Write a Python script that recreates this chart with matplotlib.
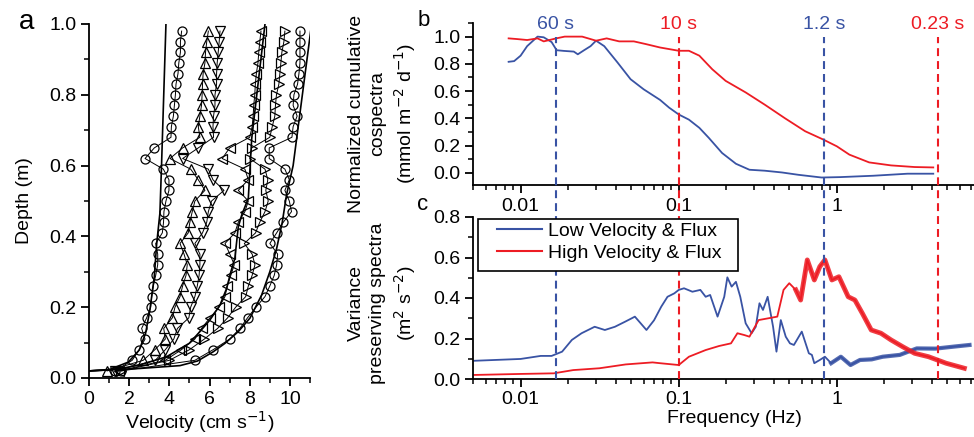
import numpy as np
import matplotlib
matplotlib.use("Agg")
import matplotlib.pyplot as plt
from matplotlib.patches import Rectangle
from matplotlib.ticker import MultipleLocator, LogLocator, NullFormatter, FixedLocator, FixedFormatter

plt.rcParams['font.family'] = ['Liberation Sans', 'DejaVu Sans']
plt.rcParams['font.size'] = 14

BLUE = '#3953a4'
RED = '#ed1c24'

# ---- panel a: velocity profiles ----
depth = [0.02, 0.05, 0.08, 0.11, 0.14, 0.17, 0.20, 0.23, 0.26, 0.29, 0.32,
         0.35, 0.38, 0.41, 0.44, 0.47, 0.50, 0.53, 0.56, 0.59, 0.62, 0.65,
         0.68, 0.71, 0.74, 0.77, 0.80, 0.83, 0.86, 0.89, 0.92, 0.95, 0.98]

vel_circ_lo = [1.3, 2.15, 2.5, 2.79, 2.62, 2.87, 3.07, 3.12, 3.2, 3.32, 3.42,
               3.42, 3.32, 3.65, 3.71, 3.73, 3.83, 3.98, 3.98, 3.70, 2.79, 3.25,
               4.08, 4.1, 4.2, 4.25, 4.3, 4.33, 4.43, 4.47, 4.55, 4.55, 4.61]
vel_up = [0.9, 2.7, 3.28, 3.8, 3.72, 4.15, 4.28, 4.53, 4.66, 4.83, 4.89,
          4.73, 4.53, 4.94, 5.02, 5.14, 5.27, 5.77, 5.44, 5.06, 4.03, 4.66,
          5.52, 5.44, 5.52, 5.6, 5.63, 5.65, 5.68, 5.77, 5.8, 5.86, 5.94]
vel_down = [1.3, 3.3, 3.8, 4.22, 4.4, 4.97, 5.06, 5.27, 5.39, 5.48, 5.52,
            5.52, 5.27, 5.65, 5.86, 5.94, 6.1, 6.72, 6.17, 5.94, 4.66, 5.44,
            6.2, 6.17, 6.2, 6.27, 6.27, 6.35, 6.35, 6.38, 6.43, 6.48, 6.52]
vel_left = [1.5, 3.8, 4.6, 5.27, 5.6, 6.02, 6.47, 6.77, 6.88, 7.06, 7.23,
            7.01, 6.77, 7.26, 7.43, 7.76, 7.93, 7.43, 7.93, 7.76, 6.63, 7.0,
            8.0, 8.12, 8.17, 8.2, 8.25, 8.28, 8.33, 8.41, 8.45, 8.5, 8.56]
vel_right = [1.6, 4.0, 5.0, 5.74, 6.4, 6.9, 7.3, 7.8, 7.93, 8.12, 8.26,
             8.12, 7.73, 8.29, 8.5, 8.76, 8.92, 8.8, 8.9, 8.76, 8.0, 8.1,
             9.0, 9.12, 9.25, 9.28, 9.33, 9.45, 9.5, 9.55, 9.6, 9.7, 9.75]
vel_circ_hi = [1.6, 5.27, 6.18, 7.01, 7.51, 7.89, 8.31, 8.76, 9.0, 9.22, 9.34,
               9.39, 9.0, 9.34, 9.67, 10.08, 9.97, 9.75, 9.97, 9.75, 8.97, 8.97,
               10.1, 10.16, 10.36, 10.16, 10.2, 10.38, 10.45, 10.5, 10.5, 10.5, 10.5]

# fitted profiles (velocity, depth)
fit1_v = [0, 1.0, 1.38, 1.96, 2.5, 2.82, 3.03, 3.25, 3.37, 3.53, 3.61, 3.83]
fit1_z = [0.02, 0.023, 0.032, 0.045, 0.079, 0.127, 0.192, 0.286, 0.38, 0.466, 0.6, 1.0]
fit2_v = [0, 1.5, 2.54, 3.86, 4.99, 5.52, 6.02, 6.52, 6.85, 7.06, 7.26, 7.35, 7.43, 7.6, 7.93, 8.1, 8.76]
fit2_z = [0.02, 0.026, 0.037, 0.06, 0.098, 0.131, 0.164, 0.206, 0.253, 0.30, 0.338, 0.385, 0.427, 0.46, 0.508, 0.677, 1.0]
fit3_v = [0, 2.54, 4.53, 5.4, 6.18, 6.77, 7.43, 8.01, 8.59, 9.0, 9.34, 9.62, 9.83, 10.16, 11.08]
fit3_z = [0.02, 0.027, 0.035, 0.048, 0.074, 0.098, 0.131, 0.169, 0.234, 0.30, 0.366, 0.44, 0.517, 0.6, 1.0]

# ---- panel b: normalized cumulative cospectra ----
b_lo_f = [0.0084, 0.0091, 0.010, 0.011, 0.0128, 0.014, 0.0157, 0.0169, 0.0188, 0.0217,
          0.023, 0.0252, 0.0277, 0.030, 0.0338, 0.041, 0.0496, 0.060, 0.0762, 0.087,
          0.1, 0.116, 0.135, 0.155, 0.188, 0.23, 0.28, 0.35, 0.45, 0.57, 0.80,
          1.05, 1.7, 2.8, 4.07]
b_lo_y = [0.815, 0.82, 0.86, 0.93, 1.0, 0.995, 0.96, 0.90, 0.895, 0.89,
          0.87, 0.90, 0.93, 0.97, 0.93, 0.81, 0.687, 0.613, 0.535, 0.478,
          0.428, 0.39, 0.33, 0.256, 0.145, 0.066, 0.022, 0.015, 0.002, -0.015, -0.035,
          -0.032, -0.022, -0.007, -0.007]
b_hi_f = [0.0084, 0.0095, 0.011, 0.0128, 0.014, 0.0168, 0.019, 0.0245, 0.030, 0.035,
          0.042, 0.052, 0.062, 0.0762, 0.1, 0.116, 0.135, 0.163, 0.198, 0.265,
          0.35, 0.47, 0.63, 0.82, 1.0, 1.2, 1.6, 2.2, 3.1, 4.07]
b_hi_y = [0.987, 0.982, 0.975, 0.987, 0.965, 0.987, 1.0, 1.0, 0.97, 0.987,
          0.965, 0.965, 0.945, 0.92, 0.896, 0.896, 0.86, 0.76, 0.675, 0.59,
          0.50, 0.40, 0.305, 0.244, 0.194, 0.133, 0.076, 0.054, 0.042, 0.039]

# ---- panel c: variance preserving spectra ----
c_lo_f = [0.0051, 0.010, 0.0134, 0.0157, 0.0183, 0.0211, 0.0243, 0.0294, 0.0341, 0.0395,
          0.0458, 0.0505, 0.0528, 0.0625, 0.0698, 0.0775, 0.0849, 0.0938, 0.1, 0.108,
          0.122, 0.137, 0.148, 0.158, 0.176, 0.194, 0.203, 0.216, 0.230, 0.245,
          0.265, 0.289, 0.307, 0.324, 0.341, 0.365, 0.395, 0.415, 0.442, 0.475,
          0.505, 0.535, 0.6, 0.665, 0.695, 0.72, 0.78, 0.84, 0.92, 1.06,
          1.22, 1.40, 1.66, 1.95, 2.5, 3.2, 4.2, 5.5, 6.9]
c_lo_y = [0.09, 0.099, 0.114, 0.114, 0.135, 0.193, 0.226, 0.258, 0.242, 0.258,
          0.283, 0.30, 0.308, 0.242, 0.29, 0.357, 0.406, 0.423, 0.44, 0.448,
          0.431, 0.44, 0.406, 0.415, 0.308, 0.406, 0.502, 0.456, 0.48, 0.406,
          0.275, 0.226, 0.258, 0.374, 0.341, 0.406, 0.258, 0.135, 0.291, 0.209,
          0.176, 0.168, 0.234, 0.127, 0.119, 0.078, 0.094, 0.11, 0.078, 0.11,
          0.069, 0.094, 0.097, 0.11, 0.119, 0.151, 0.15, 0.16, 0.168]
c_hi_f = [0.0051, 0.010, 0.0162, 0.0215, 0.0315, 0.0462, 0.0683, 0.0762, 0.1, 0.116,
          0.148, 0.180, 0.214, 0.235, 0.26, 0.28, 0.32, 0.37, 0.42, 0.46,
          0.50, 0.55, 0.59, 0.65, 0.72, 0.78, 0.84, 0.93, 1.03, 1.18,
          1.3, 1.45, 1.65, 1.9, 2.2, 2.6, 3.1, 3.8, 4.9, 6.4]
c_hi_y = [0.02, 0.025, 0.028, 0.044, 0.053, 0.072, 0.082, 0.078, 0.069, 0.11,
          0.143, 0.163, 0.176, 0.226, 0.217, 0.209, 0.291, 0.30, 0.308, 0.44,
          0.473, 0.44, 0.39, 0.588, 0.489, 0.555, 0.588, 0.489, 0.505, 0.406,
          0.39, 0.324, 0.242, 0.226, 0.193, 0.16, 0.127, 0.11, 0.078, 0.053]

cut_freqs = [1 / 60, 1 / 10, 1 / 1.2, 1 / 0.23]
cut_labels = ['60 s', '10 s', '1.2 s', '0.23 s']
cut_colors = [BLUE, RED, BLUE, RED]

fig = plt.figure(figsize=(9.74, 4.37), dpi=100)

W, H = 974.0, 437.0
ax_a = fig.add_axes([89 / W, 1 - 378 / H, 221 / W, 354 / H])
ax_b = fig.add_axes([473 / W, 1 - 185 / H, 522 / W, 162 / H])
ax_c = fig.add_axes([473 / W, 1 - 379 / H, 522 / W, 162 / H])

for ax in (ax_a, ax_b, ax_c):
    ax.spines['top'].set_visible(False)
    ax.spines['right'].set_visible(False)
    for s in ('left', 'bottom'):
        ax.spines[s].set_linewidth(1.3)
    ax.tick_params(which='major', direction='out', length=6, width=1.3, labelsize=14, pad=3)
    ax.tick_params(which='minor', direction='out', length=3.5, width=1.1)

# panel a
mk = dict(mfc='none', mec='black', mew=0.9, ms=6.5, color='black', lw=0.7)
ax_a.plot(vel_circ_lo, depth, marker='o', **mk)
ax_a.plot(vel_up, depth, marker='^', **mk)
ax_a.plot(vel_down, depth, marker='v', **mk)
ax_a.plot(vel_left, depth, marker='<', **mk)
ax_a.plot(vel_right, depth, marker='>', **mk)
ax_a.plot(vel_circ_hi, depth, marker='o', **mk)
for fv, fz in ((fit1_v, fit1_z), (fit2_v, fit2_z), (fit3_v, fit3_z)):
    ax_a.plot(fv, fz, color='black', lw=1.2)
ax_a.set_xlim(0, 11)
ax_a.set_ylim(0, 1.0)
ax_a.xaxis.set_major_locator(MultipleLocator(2))
ax_a.xaxis.set_minor_locator(MultipleLocator(1))
ax_a.yaxis.set_major_locator(MultipleLocator(0.2))
ax_a.yaxis.set_minor_locator(MultipleLocator(0.1))
ax_a.yaxis.set_major_formatter(matplotlib.ticker.FormatStrFormatter('%.1f'))
ax_a.set_xlabel('Velocity (cm s$^{-1}$)', fontsize=14, labelpad=1)
ax_a.set_ylabel('Depth (m)', fontsize=14, labelpad=12)
fig.text(27 / W, 1 - 22 / H, 'a', fontsize=20, ha='center', va='center')

# panels b and c
ax_b.plot(b_lo_f, b_lo_y, color=BLUE, lw=1.3)
ax_b.plot(b_hi_f, b_hi_y, color=RED, lw=1.3)
ax_b.set_ylim(-0.09, 1.1)
ax_b.yaxis.set_major_locator(FixedLocator([0, 0.2, 0.4, 0.6, 0.8, 1.0]))
ax_b.yaxis.set_minor_locator(MultipleLocator(0.1))
ax_b.yaxis.set_major_formatter(matplotlib.ticker.FormatStrFormatter('%.1f'))
ax_b.set_ylabel('Normalized cumulative\ncospectra\n(mmol m$^{-2}$ d$^{-1}$)', fontsize=14,
                linespacing=1.3)
ax_b.yaxis.set_label_coords(-0.106, 0.44)

c_lo, = ax_c.plot(c_lo_f, c_lo_y, color=BLUE, lw=1.3, label='Low Velocity & Flux')
c_hi, = ax_c.plot(c_hi_f, c_hi_y, color=RED, lw=1.3, label='High Velocity & Flux')
# noisy high-frequency part drawn as a thicker band
ax_c.plot([f for f in c_lo_f if f >= 0.9], [y for f, y in zip(c_lo_f, c_lo_y) if f >= 0.9],
          color=BLUE, lw=3, alpha=0.85, solid_joinstyle='round')
ax_c.plot([f for f in c_hi_f if f >= 0.55], [y for f, y in zip(c_hi_f, c_hi_y) if f >= 0.55],
          color=RED, lw=3.5, alpha=0.85, solid_joinstyle='round')
ax_c.set_ylim(0, 0.8)
ax_c.yaxis.set_major_locator(MultipleLocator(0.2))
ax_c.yaxis.set_minor_locator(MultipleLocator(0.1))
ax_c.yaxis.set_major_formatter(matplotlib.ticker.FormatStrFormatter('%.1f'))
ax_c.set_ylabel('Variance\npreserving spectra\n(m$^2$ s$^{-2}$)', fontsize=14,
                linespacing=1.3)
ax_c.yaxis.set_label_coords(-0.106, 0.47)
ax_c.set_xlabel('Frequency (Hz)', fontsize=14, labelpad=1)

for ax in (ax_b, ax_c):
    ax.set_xscale('log')
    ax.set_xlim(0.005, 10)
    ax.xaxis.set_major_locator(FixedLocator([0.01, 0.1, 1, 10]))
    ax.xaxis.set_major_formatter(FixedFormatter(['0.01', '0.1', '1', '']))
    ax.xaxis.set_minor_locator(LogLocator(base=10, subs=np.arange(2, 10)))
    ax.xaxis.set_minor_formatter(NullFormatter())

# dashed time-scale markers running from panel b (y=1) down to the bottom of panel c
for f, lab, col in zip(cut_freqs, cut_labels, cut_colors):
    disp = ax_b.transData.transform((f, 1.0))
    y_top = ax_c.transData.inverted().transform(disp)[1]
    ax_c.plot([f, f], [0, y_top], color=col, lw=1.5, linestyle=(0, (3.8, 2.4)),
              clip_on=False, zorder=3)
    ax_b.text(f, 1.09, lab, color=col, fontsize=14, ha='center', va='center')

# legend with a square frame (wide side padding as in the figure)
ax_c.add_patch(Rectangle(((478 - 473) / 522, (379 - 271) / 162), 260 / 522, 52 / 162,
                         transform=ax_c.transAxes, facecolor='white', edgecolor='black',
                         lw=1.2, zorder=4))
leg = fig.legend(handles=[c_lo, c_hi], loc='upper left',
                 bbox_to_anchor=((497 - 473) / 522, (379 - 222) / 162),
                 bbox_transform=ax_c.transAxes,
                 fontsize=14, frameon=False, handlelength=2.3, handletextpad=0.3,
                 labelspacing=0.22, borderpad=0, borderaxespad=0)
for h in leg.get_lines():
    h.set_linewidth(1.5)

fig.text(424 / W, 1 - 21 / H, 'b', fontsize=16, ha='center', va='center')
fig.text(423 / W, 1 - 205 / H, 'c', fontsize=16, ha='center', va='center')

fig.savefig('out.png', dpi=100)
